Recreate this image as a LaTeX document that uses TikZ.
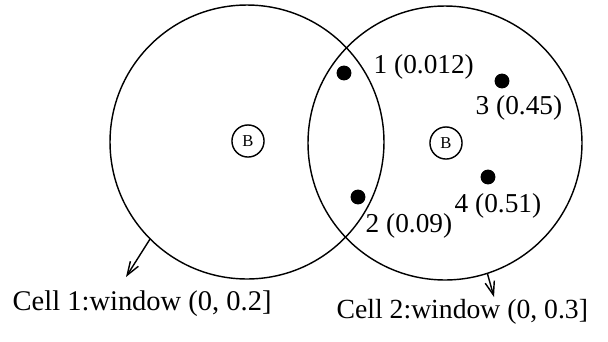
\documentclass[tikz,border=0pt]{standalone}
\usepackage{fontspec}
\setmainfont{Liberation Serif}
\usetikzlibrary{calc, arrows.meta, positioning}

\begin{document}
\begin{tikzpicture}[x=0.0148cm, y=-0.0148cm, line width=0.6pt,
  every node/.style={font=\fontsize{11.5}{13}\selectfont},
  cell/.style={circle, draw, minimum size=4.055cm, inner sep=0pt, outer sep=0pt},
  basenode/.style={circle, draw, minimum size=0.475cm, inner sep=0pt, font=\fontsize{7}{8}\selectfont},
  sensor/.style={circle, fill=black, minimum size=0.22cm, inner sep=0pt},
  tag/.style={anchor=base west, inner sep=0pt},
  window/.style={-{Straight Barb[length=2mm, width=1.4mm]}}]

\useasboundingbox (0,0) rectangle (608,341);

% ------------------------------------------------------------------
% CELLS and their base stations
% ------------------------------------------------------------------
\node[cell] (cellA) at (247,142) {};
\node[cell] (cellB) at (445,143) {};

\node[basenode] (baseA) at (248,141) {B};
\node[basenode] (baseB) at (446,143) {B};

% ------------------------------------------------------------------
% USERS with their values
% ------------------------------------------------------------------
\foreach \n/\x/\y/\lx/\ly/\v in {1/344/73/373/73/0.012, 2/358/197/365/232/0.09,
                                 3/502/81/475/114/0.45, 4/488/177/454/212/0.51} {
  \node[sensor] (s\n) at (\x,\y) {};
  \node[tag] (t\n) at (\lx,\ly) {\n\ (\v)};
}

% ------------------------------------------------------------------
% WINDOW labels
% ------------------------------------------------------------------
\node[tag, font=\fontsize{12}{14}\selectfont] (winA) at (12,310) {Cell 1:window (0, 0.2]};
\node[tag, font=\fontsize{11.65}{14}\selectfont] (winB) at (336,318) {Cell 2:window (0, 0.3]};

\coordinate (tipA) at (126,277);
\coordinate (tipB) at (494,297);
\draw[window] (cellA.225) -- (tipA);
\draw[window] (cellB.288) -- (tipB);

\end{tikzpicture}
\end{document}
